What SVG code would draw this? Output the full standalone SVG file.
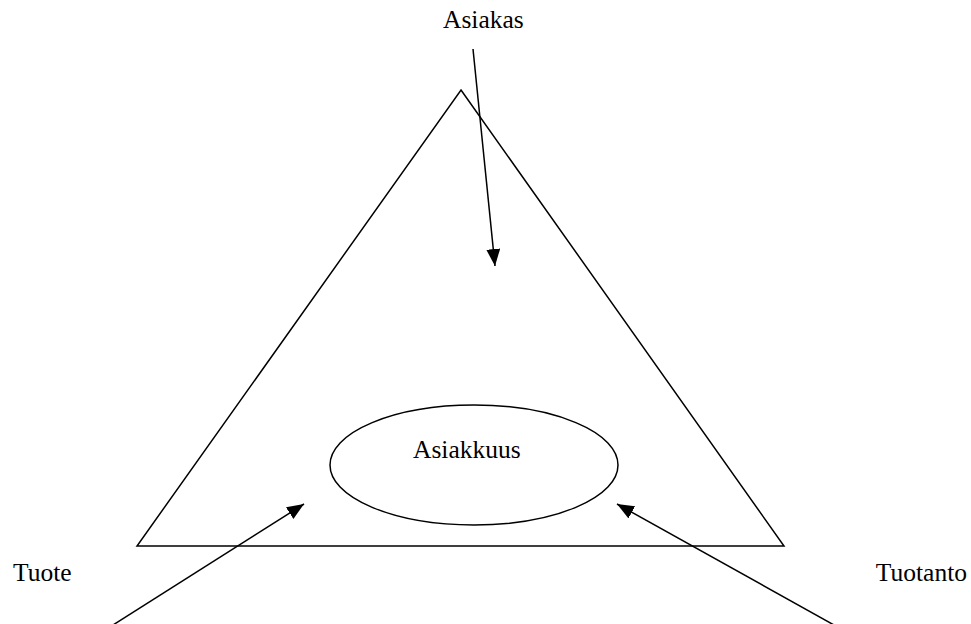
<svg xmlns="http://www.w3.org/2000/svg" width="971" height="624" viewBox="0 0 971 624">
<style>
.s{fill:none;stroke:#000;stroke-width:1.5}
.t{font-family:"Liberation Serif","Times New Roman",serif;font-size:25.5px;fill:#000}
</style>
<defs>
<marker id="ah" markerWidth="18" markerHeight="14" refX="17" refY="7" orient="auto" markerUnits="userSpaceOnUse">
<path d="M0,0 L17,7 L0,14 Z" fill="#000"/>
</marker>
</defs>
<rect width="971" height="624" fill="#fff"/>
<g id="triangle"><polygon class="s" points="461,90 784,546 137,546"/></g>
<g id="asiakkuus">
<ellipse class="s" cx="474" cy="465" rx="144" ry="60"/>
<text class="t" x="413" y="458">Asiakkuus</text>
</g>
<g id="asiakas"><text class="t" x="443" y="28">Asiakas</text></g>
<g id="tuote"><text class="t" x="13" y="581">Tuote</text></g>
<g id="tuotanto"><text class="t" x="967" y="581" text-anchor="end">Tuotanto</text></g>
<g id="connectors">
<line class="s" x1="473" y1="49" x2="495" y2="266" marker-end="url(#ah)"/>
<line class="s" x1="113" y1="625" x2="304" y2="504" marker-end="url(#ah)"/>
<line class="s" x1="834" y1="625" x2="617" y2="504" marker-end="url(#ah)"/>
</g>
</svg>
